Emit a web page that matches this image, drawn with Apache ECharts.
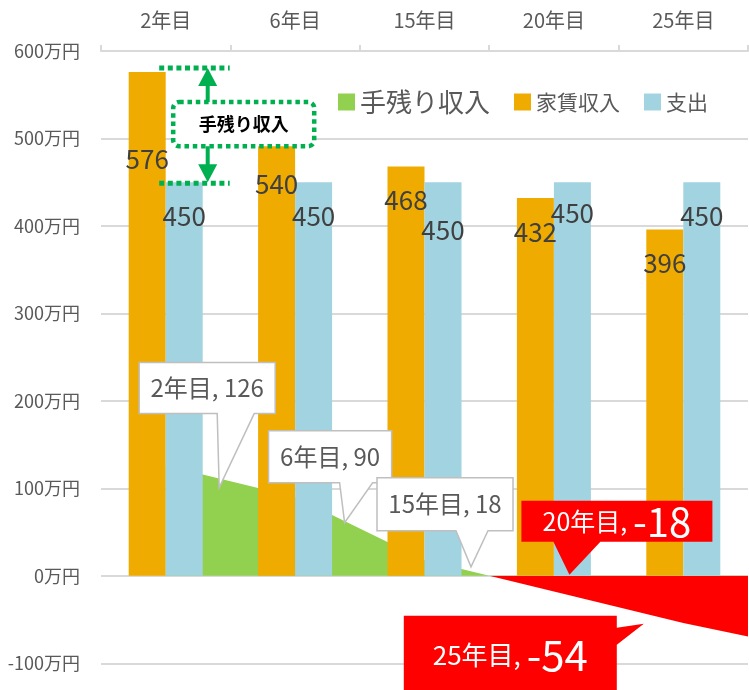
<!DOCTYPE html>
<html><head><meta charset="utf-8">
<script src="https://cdn.jsdelivr.net/npm/echarts@6/dist/echarts.min.js"></script>
<style>html,body{margin:0;padding:0;background:#fff}#c{width:749px;height:690px}</style>
</head><body><div id="c"></div>
<script>
// ---- data ----
const categories = ['2年目', '6年目', '15年目', '20年目', '25年目'];
const rentIncome = [576, 540, 468, 432, 396];      // 家賃収入
const expenses   = [450, 450, 450, 450, 450];      // 支出
const netIncome  = [126, 90, 18, -18, -54];        // 手残り収入
const netIncomeTail = [-85];                        // area continues past the right edge
const yMin = -100, yMax = 600, yStep = 100;
const yUnit = '万円';
const seriesNames = ['手残り収入', '家賃収入', '支出'];

// ---- styles ----
const FONT = '"Noto Sans CJK JP", "Noto Sans", sans-serif';
const C_GREEN = '#92D050', C_RED = '#FF0000', C_ORANGE = '#F0AB00', C_BLUE = '#A2D3E0';
const C_MARK = '#00B050';

// label vertical offsets (px from bar top) per bar
const rentLabelY = [87, 81, 34, 34, 34];
const expLabelY  = [34, 34, 48, 31, 34];

// callout shapes relative to their data point
const calloutStyle = [
  {box: [-26.5, -103, 136, 51], side: 'bottom', base: [51.5, 88.5], tip: [53.5, 22], red: false},
  {box: [-26.5, -66.4, 123, 52], side: 'bottom', base: [44.5, 77.5], tip: [49.5, 25.6], red: false},
  {box: [-47.5, -82.3, 136, 53], side: 'bottom', base: [31.5, 63.5], tip: [46.5, 6.7], red: false},
  {box: [-32.5, -90.7, 191, 41], side: 'bottom', base: [-0.5, 46.5], tip: [15.5, -16.7], red: true, small: 25, big: 40, textDy: 0},
  {box: [-279.5, -7.2, 213, 100], side: 'right', base: [4.8, 21.8], tip: [-39.5, 0.8], red: true, small: 26, big: 42, textDy: 32}
];

function renderCallout(params, api) {
  const i = params.dataIndex;
  const c = calloutStyle[i];
  const p = api.coord([i, netIncome[i]]);
  const x0 = p[0] + c.box[0], y0 = p[1] + c.box[1];
  const x1 = x0 + c.box[2], y1 = y0 + c.box[3];
  const tip = [p[0] + c.tip[0], p[1] + c.tip[1]];
  let pts;
  if (c.side === 'bottom') {
    pts = [[x0, y0], [x1, y0], [x1, y1], [p[0] + c.base[1], y1], tip, [p[0] + c.base[0], y1], [x0, y1]];
  } else {
    pts = [[x0, y0], [x1, y0], [x1, p[1] + c.base[0]], tip, [x1, p[1] + c.base[1]], [x1, y1], [x0, y1]];
  }
  const cx = (x0 + x1) / 2;
  const cy = c.textDy ? p[1] + c.textDy : (y0 + y1) / 2;
  let textEl;
  if (c.red) {
    textEl = {type: 'text', style: {
      text: '{a|' + categories[i] + ', }{b|' + netIncome[i] + '}',
      x: cx, y: cy, align: 'center', verticalAlign: 'middle',
      rich: {
        a: {fill: '#FFFFFF', fontSize: c.small, fontFamily: FONT},
        b: {fill: '#FFFFFF', fontSize: c.big, fontFamily: FONT}
      }
    }};
  } else {
    textEl = {type: 'text', style: {
      text: categories[i] + ', ' + netIncome[i],
      x: cx, y: cy, align: 'center', verticalAlign: 'middle',
      fill: '#595959', fontSize: 24, fontFamily: FONT
    }};
  }
  return {type: 'group', children: [
    {type: 'polygon', shape: {points: pts},
      style: c.red ? {fill: C_RED, stroke: null, lineWidth: 0}
                   : {fill: '#FFFFFF', stroke: '#BFBFBF', lineWidth: 1.5}},
    textEl
  ]};
}

function renderMarker(params, api) {
  const top = api.coord([0, api.value(1)]);
  const bot = api.coord([0, api.value(2)]);
  const cx = top[0];
  const ax = cx + 42;
  const ty = top[1] - 4, by = bot[1] + 1;
  const boxTop = top[1] + 30, boxBot = bot[1] - 36;
  const dot = {stroke: C_MARK, lineWidth: 5, lineDash: [5, 3.6], fill: null};
  return {type: 'group', children: [
    {type: 'line', shape: {x1: cx - 6.5, y1: ty, x2: cx + 64, y2: ty}, style: dot},
    {type: 'line', shape: {x1: cx - 6.5, y1: by, x2: cx + 64, y2: by}, style: dot},
    {type: 'rect', shape: {x: cx + 7.5, y: boxTop, width: 141, height: boxBot - boxTop, r: 6},
      style: {fill: '#FFFFFF', stroke: C_MARK, lineWidth: 4.5, lineDash: [4.5, 3.8]}},
    {type: 'polygon', shape: {points: [[ax - 2, boxTop], [ax - 2, ty + 18], [ax - 9.5, ty + 18], [ax, ty],
      [ax + 9.5, ty + 18], [ax + 2, ty + 18], [ax + 2, boxTop]]}, style: {fill: C_MARK}},
    {type: 'polygon', shape: {points: [[ax - 2, boxBot], [ax - 2, by - 19], [ax - 9.5, by - 19], [ax, by - 1],
      [ax + 9.5, by - 19], [ax + 2, by - 19], [ax + 2, boxBot]]}, style: {fill: C_MARK}},
    {type: 'text', style: {text: seriesNames[0], x: cx + 78, y: (boxTop + boxBot) / 2,
      align: 'center', verticalAlign: 'middle', fill: '#000000', fontSize: 18, fontWeight: 'bold', fontFamily: FONT}}
  ]};
}

const chart = echarts.init(document.getElementById('c'), null, {renderer: 'canvas'});
const barLabel = {show: true, position: ['50%', 34], align: 'center', verticalAlign: 'middle',
  color: '#404040', fontSize: 26, fontFamily: FONT};

chart.setOption({
  animation: false,
  backgroundColor: '#FFFFFF',
  textStyle: {fontFamily: FONT},
  grid: {left: 101, right: 1, top: 51, bottom: 26.7, containLabel: false},
  legend: {
    left: 333, top: 84, icon: 'rect', itemWidth: 17, itemHeight: 17, itemGap: 24,
    itemStyle: {borderWidth: 0},
    data: [
      {name: seriesNames[0], itemStyle: {color: C_GREEN}, textStyle: {fontSize: 26, color: '#595959', fontFamily: FONT}},
      {name: seriesNames[1], itemStyle: {color: C_ORANGE}, textStyle: {fontSize: 21, color: '#595959', fontFamily: FONT}},
      {name: seriesNames[2], itemStyle: {color: C_BLUE}, textStyle: {fontSize: 21, color: '#595959', fontFamily: FONT}}
    ]
  },
  visualMap: {
    type: 'piecewise', show: false, seriesIndex: 0, dimension: 1,
    pieces: [{gte: yMin * 3, lt: 0, color: C_RED}, {gte: 0, lte: yMax * 3, color: C_GREEN}]
  },
  xAxis: [
    {type: 'category', data: categories, position: 'top',
      axisLine: {onZero: false, lineStyle: {color: '#D9D9D9', width: 2}},
      axisTick: {show: true, length: 6, lineStyle: {color: '#D9D9D9', width: 2}},
      axisLabel: {color: '#595959', fontSize: 20, margin: 21, fontFamily: FONT},
      splitLine: {show: false}},
    {type: 'value', min: -0.5, max: 4.5, show: false, axisLine: {onZero: false}}
  ],
  yAxis: {
    type: 'value', min: yMin, max: yMax, interval: yStep,
    axisLine: {show: false}, axisTick: {show: false},
    axisLabel: {formatter: v => v + yUnit, color: '#595959', fontSize: 18, margin: 21, fontFamily: FONT},
    splitLine: {lineStyle: {color: '#D9D9D9', width: 2}}
  },
  series: [
    {name: seriesNames[0], type: 'line', xAxisIndex: 1, yAxisIndex: 0, z: 1,
      data: netIncome.concat(netIncomeTail).map((v, i) => [i, v]),
      symbol: 'none', showSymbol: false, clip: true,
      itemStyle: {color: C_GREEN},
      lineStyle: {width: 0}, areaStyle: {opacity: 1}},
    {name: seriesNames[1], type: 'bar', xAxisIndex: 0, z: 2, barWidth: 37, barGap: '0%',
      itemStyle: {color: C_ORANGE},
      label: barLabel,
      data: rentIncome.map((v, i) => ({value: v, label: {position: ['50%', rentLabelY[i]]}}))},
    {name: seriesNames[2], type: 'bar', xAxisIndex: 0, z: 2, barWidth: 37, barGap: '0%',
      itemStyle: {color: C_BLUE},
      label: barLabel,
      data: expenses.map((v, i) => ({value: v, label: {position: ['50%', expLabelY[i]]}}))},
    {type: 'custom', xAxisIndex: 0, yAxisIndex: 0, z: 10, silent: true,
      renderItem: renderCallout, encode: {x: 0, y: 1},
      data: netIncome.map((v, i) => [i, v])},
    {type: 'custom', xAxisIndex: 0, yAxisIndex: 0, z: 10, silent: true,
      renderItem: renderMarker, encode: {x: 0, y: 1},
      data: [[0, rentIncome[0], expenses[0]]]}
  ]
});
</script>
</body></html>
